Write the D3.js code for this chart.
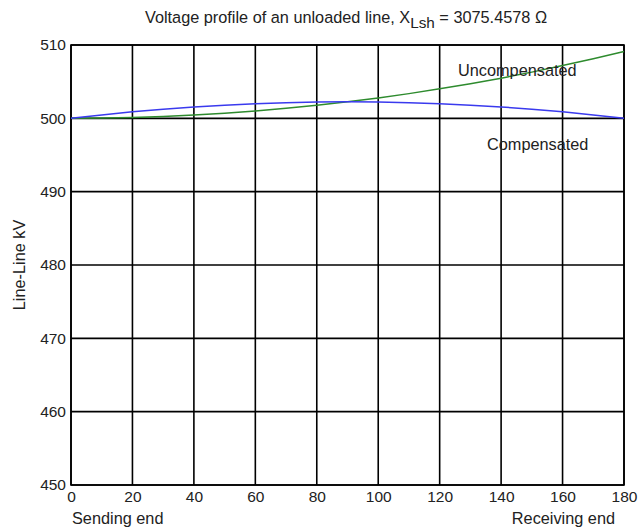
<!DOCTYPE html>
<html><head><meta charset="utf-8">
<script src="https://cdnjs.cloudflare.com/ajax/libs/d3/7.8.5/d3.min.js"></script>
<style>body{margin:0;background:#fff}text{font-family:"Liberation Sans",Arial,sans-serif;fill:#222}</style>
</head><body><svg id="c" width="638" height="532"></svg>
<script>
const positions = [0,10,20,30,40,50,60,70,80,90,100,110,120,130,140,150,160,170,180];
const uncompensated = [500.00,500.03,500.11,500.25,500.44,500.69,501.00,501.36,501.78,502.25,502.78,503.37,504.02,504.72,505.48,506.30,507.19,508.13,509.11];
const compensated = [500.00,500.47,500.89,501.25,501.56,501.80,502.00,502.14,502.22,502.25,502.22,502.14,502.00,501.80,501.56,501.25,500.89,500.47,500.00];
const xTicks = [0,20,40,60,80,100,120,140,160,180];
const yTicks = [450,460,470,480,490,500,510];

const svg = d3.select("#c");
const m = {l:71, r:624, t:45, b:485};
const x = d3.scaleLinear().domain([0,180]).range([m.l,m.r]);
const y = d3.scaleLinear().domain([450,510]).range([m.b,m.t]);
const FS = 15.5, FT = 16.3;

// grid
svg.append("g").selectAll("line").data(xTicks).join("line")
  .attr("x1",d=>x(d)).attr("x2",d=>x(d)).attr("y1",m.t).attr("y2",m.b)
  .attr("stroke","#000").attr("stroke-width",1.6);
svg.append("g").selectAll("line").data(yTicks).join("line")
  .attr("y1",d=>y(d)).attr("y2",d=>y(d)).attr("x1",m.l).attr("x2",m.r)
  .attr("stroke","#000").attr("stroke-width",1.6);
svg.append("rect").attr("x",m.l).attr("y",m.t).attr("width",m.r-m.l).attr("height",m.b-m.t)
  .attr("fill","none").attr("stroke","#000").attr("stroke-width",1.6);

// axes labels
const xa = svg.append("g").attr("transform",`translate(0,${m.b})`)
  .call(d3.axisBottom(x).tickValues(xTicks).tickSize(0).tickPadding(6));
xa.select(".domain").remove();
xa.selectAll("text").attr("font-size",FS).attr("fill","#222").attr("font-family","Liberation Sans, Arial, sans-serif");
const ya = svg.append("g").attr("transform",`translate(${m.l},0)`)
  .call(d3.axisLeft(y).tickValues(yTicks).tickSize(0).tickPadding(5));
ya.select(".domain").remove();
ya.selectAll("text").attr("font-size",FS).attr("fill","#222").attr("font-family","Liberation Sans, Arial, sans-serif");

// lines
const line = d3.line().x((d,i)=>x(positions[i])).y(d=>y(d));
svg.append("path").datum(uncompensated).attr("d",line).attr("fill","none")
  .attr("stroke","#2e8b2e").attr("stroke-width",1.5);
svg.append("path").datum(compensated).attr("d",line).attr("fill","none")
  .attr("stroke","#3a3aee").attr("stroke-width",1.5);

// annotations
svg.append("text").attr("x",458).attr("y",76).attr("font-size",FT).text("Uncompensated");
svg.append("text").attr("x",487).attr("y",150).attr("font-size",FT).text("Compensated");
svg.append("text").attr("x",72).attr("y",524).attr("font-size",FT).text("Sending end");
svg.append("text").attr("x",615).attr("y",524).attr("font-size",FT).attr("text-anchor","end").text("Receiving end");
svg.append("text").attr("transform","translate(25,265) rotate(-90)").attr("text-anchor","middle")
  .attr("font-size",FT).text("Line-Line kV");

// title
const t = svg.append("text").attr("x",346).attr("y",23).attr("text-anchor","middle").attr("font-size",FT);
t.append("tspan").text("Voltage profile of an unloaded line, X");
t.append("tspan").attr("dy",5).attr("font-size",FT-1).text("Lsh");
t.append("tspan").attr("dy",-5).text(" = 3075.4578 Ω");
</script></body></html>
